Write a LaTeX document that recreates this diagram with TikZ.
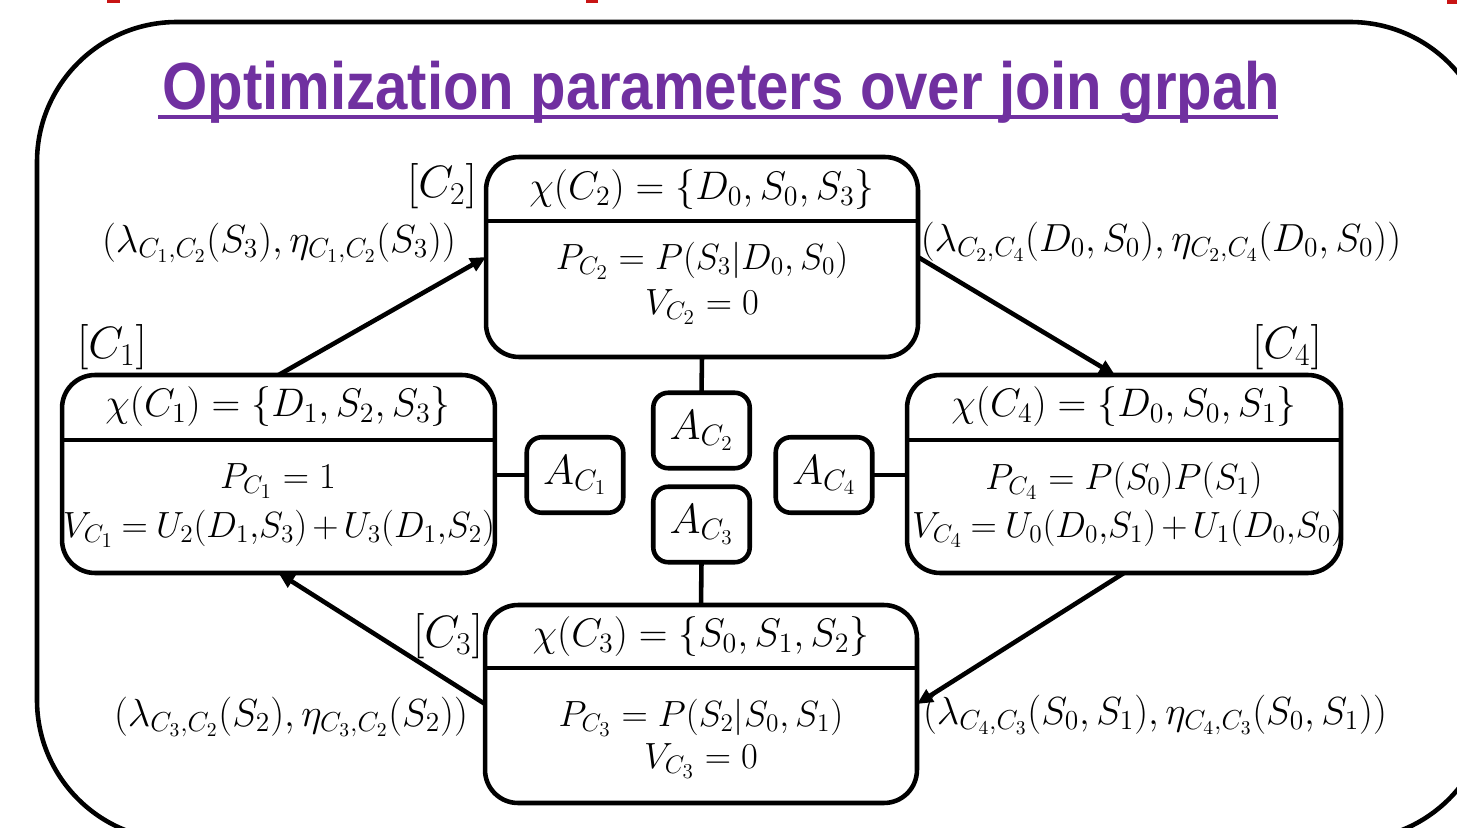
\RequirePackage{fix-cm}
\documentclass[tikz,border=0pt]{standalone}
\usepackage{fontspec}
\usepackage{amsmath}
\usetikzlibrary{arrows.meta}
\newfontfamily\titlefont{Liberation Sans}
\definecolor{titlepurple}{RGB}{112,48,160}
\definecolor{markred}{RGB}{200,20,20}
\newcommand{\tightmath}{\thickmuskip=4mu\relax\medmuskip=2.5mu\relax}
\begin{document}
\begin{tikzpicture}[x=0.02cm,y=-0.02cm, line width=2.6pt,
  cbox/.style={draw, rounded corners=0.66cm, inner sep=0pt, outer sep=0pt},
  abox/.style={draw, rounded corners=0.3cm, minimum width=1.93cm, minimum height=1.51cm, inner sep=0pt, outer sep=0pt, font=\fontsize{24}{28}\selectfont},
  txt/.style={inner sep=0pt, font=\fontsize{20.74}{24}\selectfont},
  head/.style={inner sep=0pt, font=\fontsize{22.7}{26}\selectfont},
  clab/.style={inner sep=0pt, font=\fontsize{25.8}{29}\selectfont},
  lab/.style={inner sep=0pt, font=\fontsize{22.3}{26}\selectfont},
  arr/.style={-{Triangle[length=9pt,width=8pt]}},
]
\useasboundingbox (0,0) rectangle (1457,828);
\clip (0,0) rectangle (1457,828);
% red remnants at top
\fill[markred] (107,0) rectangle (120,3);
\fill[markred] (586,0) rectangle (598,3);
\fill[markred] (1447,0) rectangle (1457,4);
% outer frame
\draw[rounded corners=2.8cm] (37,22) rectangle (1490,840);
% title
\node[anchor=base west, inner sep=0pt, text=titlepurple] (title) at (160,110)
  {\resizebox{22.36cm}{\height}{\titlefont\bfseries\fontsize{38}{40}\selectfont Optimization parameters over join grpah}};
\draw[titlepurple, line width=2.3pt] (158,117) -- (1278,117);
% cluster boxes
\node[cbox, minimum width=8.64cm, minimum height=4cm] (C2) at (702,257) {};
\node[cbox, minimum width=8.66cm, minimum height=3.96cm] (C1) at (278.5,474) {};
\node[cbox, minimum width=8.68cm, minimum height=3.96cm] (C4) at (1124,474) {};
\node[cbox, minimum width=8.64cm, minimum height=3.96cm] (C3) at (701,704) {};
\draw ([yshift=-1.28cm]C2.north west) -- ([yshift=-1.28cm]C2.north east);
\draw ([yshift=-1.3cm]C1.north west) -- ([yshift=-1.3cm]C1.north east);
\draw ([yshift=-1.3cm]C4.north west) -- ([yshift=-1.3cm]C4.north east);
\draw ([yshift=-1.26cm]C3.north west) -- ([yshift=-1.26cm]C3.north east);
% texts
\node[head] (C2h) at (702,190) {$\chi(C_2)=\{D_0,S_0,S_3\}$};
\node[txt] (C2p) at (702,261) {$P_{C_2}=P(S_3|D_0,S_0)$};
\node[txt] (C2v) at (702,307) {$V_{C_2}=0$};
\node[head] (C1h) at (278,407) {$\chi(C_1)=\{D_1,S_2,S_3\}$};
\node[txt] (C1p) at (278,481) {$P_{C_1}=1$};
\node[txt] (C1v) at (279,529) {$\tightmath V_{C_1}=U_2(D_1{,}S_3)+U_3(D_1{,}S_2)$};
\node[head] (C4h) at (1124,407) {$\chi(C_4)=\{D_0,S_0,S_1\}$};
\node[txt] (C4p) at (1124,481) {$P_{C_4}=P(S_0)P(S_1)$};
\node[txt] (C4v) at (1128,529) {$\tightmath V_{C_4}=U_0(D_0{,}S_1)+U_1(D_0{,}S_0)$};
\node[head] (C3h) at (701,637) {$\chi(C_3)=\{S_0,S_1,S_2\}$};
\node[txt] (C3p) at (701,718) {$P_{C_3}=P(S_2|S_0,S_1)$};
\node[txt] (C3v) at (701,761) {$V_{C_3}=0$};
% cluster labels
\node[clab] (L2) at (442,186) {$[C_2]$};
\node[clab] (L1) at (112,347) {$[C_1]$};
\node[clab] (L4) at (1287,347) {$[C_4]$};
\node[clab] (L3) at (448,636) {$[C_3]$};
% A boxes
\node[abox] (A2) at (701.5,430.5) {$A_{C_2}$};
\node[abox] (A3) at (701.5,524.5) {$A_{C_3}$};
\node[abox] (A1) at (575,475) {$A_{C_1}$};
\node[abox] (A4) at (824,475) {$A_{C_4}$};
\draw (C2.south) -- (A2.north);
\draw (A3.south) -- (C3.north);
\draw (A1.west) -- (A1.west -| C1.east);
\draw (A4.east) -- (A4.east -| C4.west);
% arrows
\draw[arr] (C1.north) -- (C2.west);
\draw[arr] (C2.east) -- ([xshift=-0.18cm]C4.north);
\draw[arr] (C4.south) -- (C3.east);
\draw[arr] (C3.west) -- (C1.south);
% message labels
\node[lab] (m12) at (279,243) {$(\lambda_{C_1,C_2}(S_3),\eta_{C_1,C_2}(S_3))$};
\node[lab] (m24) at (1161,242) {$(\lambda_{C_2,C_4}(D_0,S_0),\eta_{C_2,C_4}(D_0,S_0))$};
\node[lab] (m32) at (291,717) {$(\lambda_{C_3,C_2}(S_2),\eta_{C_3,C_2}(S_2))$};
\node[lab] (m43) at (1155,715) {$(\lambda_{C_4,C_3}(S_0,S_1),\eta_{C_4,C_3}(S_0,S_1))$};
\end{tikzpicture}
\end{document}
